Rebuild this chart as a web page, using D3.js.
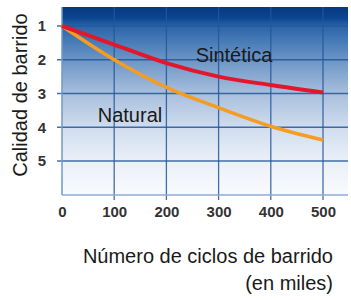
<!DOCTYPE html>
<html>
<head>
<meta charset="utf-8">
<style>
  body { margin: 0; background: #fff; }
  text { font-family: "Liberation Sans", Arial, sans-serif; fill: #1a1a1a; }
  .tick text { font-weight: bold; font-size: 15px; fill: #333; }
</style>
<script src="https://d3js.org/d3.v7.min.js"></script>
</head>
<body>
<svg width="351" height="300"></svg>
<script>
// miles de ciclos
var ciclos = [0, 100, 200, 300, 400, 500];
var sintetica = [1.0, 1.55, 2.1, 2.5, 2.75, 2.97];
var natural = [1.0, 2.0, 2.82, 3.42, 3.97, 4.38];
var yTicks = [1, 2, 3, 4, 5];

var svg = d3.select("svg");
var pLeft = 62, pRight = 348, pTop = 7, pBottom = 195;

var x = d3.scaleLinear().domain([0, 500]).range([pLeft, 323]);
var y = d3.scaleLinear().domain([1, 5]).range([26, 161]);

var defs = svg.append("defs");
var grad = defs.append("linearGradient").attr("id", "bg")
  .attr("x1", 0).attr("y1", 0).attr("x2", 0).attr("y2", 1);
[[0, "#063880"], [0.06, "#0b4690"], [0.1, "#2a63a8"], [0.17, "#4278b5"],
 [0.29, "#6f97c7"], [0.46, "#a8bfdd"], [0.64, "#d0ddee"], [0.82, "#eaf0f8"], [1, "#f9fbfd"]]
  .forEach(function(s) {
    grad.append("stop").attr("offset", s[0]).attr("stop-color", s[1]);
  });

svg.append("rect")
  .attr("x", pLeft).attr("y", pTop)
  .attr("width", pRight - pLeft).attr("height", pBottom - pTop)
  .attr("fill", "url(#bg)");

// grid horizontal
svg.append("g").selectAll("line").data(yTicks).enter().append("line")
  .attr("x1", pLeft - 5).attr("x2", pRight)
  .attr("y1", function(d) { return y(d); })
  .attr("y2", function(d) { return y(d); })
  .attr("stroke", "#24579a").attr("stroke-width", 1.3).attr("opacity", 0.85);

// grid vertical
svg.append("g").selectAll("line").data(ciclos.slice(1)).enter().append("line")
  .attr("x1", function(d) { return x(d); })
  .attr("x2", function(d) { return x(d); })
  .attr("y1", pTop).attr("y2", pBottom + 5)
  .attr("stroke", "#24579a").attr("stroke-width", 1.3).attr("opacity", 0.85);

// axis frame
svg.append("line").attr("x1", pLeft).attr("x2", pLeft).attr("y1", pTop).attr("y2", pBottom)
  .attr("stroke", "#6f97cc").attr("stroke-width", 1.5);
svg.append("line").attr("x1", pLeft).attr("x2", pRight).attr("y1", pBottom).attr("y2", pBottom)
  .attr("stroke", "#8aadd8").attr("stroke-width", 1.5);

// tick labels
var xAxis = svg.append("g").attr("transform", "translate(0," + pBottom + ")")
  .call(d3.axisBottom(x).tickValues(ciclos).tickSize(0).tickPadding(11));
xAxis.select(".domain").remove();

var yAxis = svg.append("g").attr("transform", "translate(" + pLeft + ",0)")
  .call(d3.axisLeft(y).tickValues(yTicks).tickFormat(d3.format("d"))
    .tickSize(0).tickPadding(16));
yAxis.select(".domain").remove();

var line = d3.line()
  .x(function(d) { return x(d[0]); })
  .y(function(d) { return y(d[1]); })
  .curve(d3.curveMonotoneX);

svg.append("path")
  .attr("d", line(ciclos.map(function(c, i) { return [c, natural[i]]; })))
  .attr("fill", "none").attr("stroke", "#f59c22").attr("stroke-width", 3.5);
svg.append("path")
  .attr("d", line(ciclos.map(function(c, i) { return [c, sintetica[i]]; })))
  .attr("fill", "none").attr("stroke", "#e3172c").attr("stroke-width", 4);

svg.append("text").attr("x", 234).attr("y", 62).attr("text-anchor", "middle")
  .style("font-size", "20px").text("Sintética");
svg.append("text").attr("x", 130).attr("y", 122).attr("text-anchor", "middle")
  .style("font-size", "20px").text("Natural");

svg.append("text")
  .attr("transform", "translate(27,95) rotate(-90)")
  .attr("text-anchor", "middle")
  .style("font-size", "20px")
  .text("Calidad de barrido");

svg.append("text").attr("x", 333).attr("y", 263).attr("text-anchor", "end")
  .style("font-size", "20px").text("Número de ciclos de barrido");
svg.append("text").attr("x", 333).attr("y", 290).attr("text-anchor", "end")
  .style("font-size", "20px").text("(en miles)");
</script>
</body>
</html>
